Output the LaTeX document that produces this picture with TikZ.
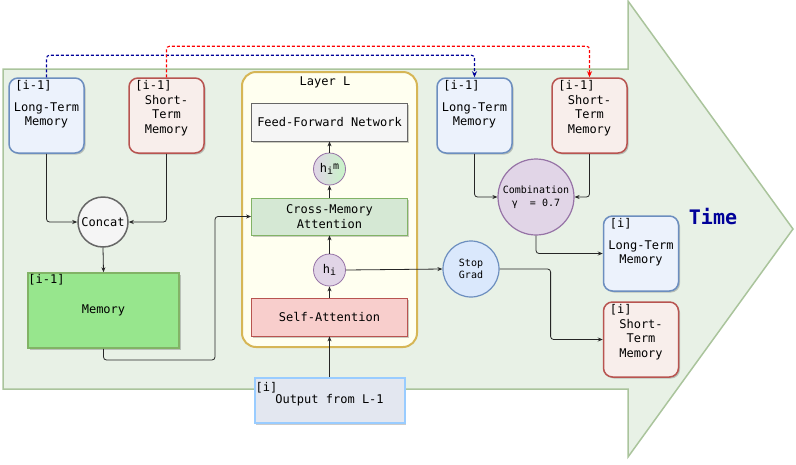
\documentclass[tikz,border=0pt]{standalone}
\usepackage{fontspec}
\setmonofont{DejaVu Sans Mono}
\usetikzlibrary{arrows.meta,shadows}

\definecolor{bgfill}{RGB}{232,241,230}
\definecolor{bgline}{RGB}{170,196,156}
\definecolor{ltmfill}{RGB}{236,242,252}
\definecolor{ltmline}{RGB}{108,142,191}
\definecolor{stmfill}{RGB}{248,238,235}
\definecolor{stmline}{RGB}{184,84,80}
\definecolor{memfill}{RGB}{151,230,141}
\definecolor{memline}{RGB}{130,179,102}
\definecolor{layerfill}{RGB}{255,255,240}
\definecolor{layerline}{RGB}{214,182,86}
\definecolor{ffnfill}{RGB}{245,245,245}
\definecolor{grayline}{RGB}{102,102,102}
\definecolor{cmafill}{RGB}{213,232,212}
\definecolor{safill}{RGB}{248,206,204}
\definecolor{outfill}{RGB}{227,231,240}
\definecolor{outbord}{RGB}{153,204,255}
\definecolor{stopfill}{RGB}{218,232,252}
\definecolor{purplefill}{RGB}{225,213,231}
\definecolor{purpleline}{RGB}{150,115,166}
\definecolor{hgreen}{RGB}{200,244,200}
\definecolor{navy}{RGB}{0,0,153}

\newcommand{\boxfont}{\ttfamily\fontsize{12}{14.5}\selectfont}
\newcommand{\tinyfont}{\ttfamily\fontsize{10}{12.5}\selectfont}
\newcommand{\hsub}{\raisebox{-2.5pt}{\fontsize{10}{10}\selectfont i}}

\tikzset{
    conn/.style={draw=black!85, line width=0.8pt, rounded corners=3pt, -{Stealth[length=5pt,width=4pt]}},
    memlink/.style={line width=1.1pt, dash pattern=on 3pt off 2pt, rounded corners=3pt, -{Stealth[length=6pt,width=5pt]}},
    boxshadow/.style={drop shadow={shadow xshift=1.5pt, shadow yshift=-1.5pt, opacity=0.2, fill=black}},
    tagtext/.style={anchor=north west, inner sep=0pt, font=\boxfont},
    tag/.style={label={[tagtext, xshift=7pt, yshift=-3pt]north west:{#1}}},
    memsquare/.style={rectangle, rounded corners=9pt, line width=1.5pt, minimum width=75pt, minimum height=75pt,
        inner sep=0pt, align=center, font=\boxfont, boxshadow},
    longmem/.style={memsquare, draw=ltmline, fill=ltmfill},
    shortmem/.style={memsquare, draw=stmline, fill=stmfill},
    layerbox/.style={rectangle, minimum width=156pt, inner sep=0pt, line width=0.8pt, align=center, font=\boxfont, boxshadow},
    hnode/.style={circle, draw=purpleline, fill=purplefill, line width=0.8pt, minimum size=32pt, inner sep=0pt, font=\boxfont},
}

\begin{document}
\begin{tikzpicture}[x=1pt, y=-1pt]
    \useasboundingbox (0,0) rectangle (796,464);

    % time arrow
    \draw[bgline, fill=bgfill, line width=1.5pt, line join=miter]
        (3,69) -- (628,69) -- (628,1) -- (793,229) -- (628,457) -- (628,389) -- (3,389) -- cycle;
    \node[font=\ttfamily\bfseries\fontsize{20}{24}\selectfont, text=navy] (time) at (713,217) {Time};

    % memories of segment i-1
    \node[longmem, tag={[i-1]}] (ltmIn) at (46.5,115.5) {Long-Term\\Memory};
    \node[shortmem, tag={[i-1]}] (stmIn) at (166.5,115.5) {Short-\\Term\\Memory};
    \node[circle, draw=grayline, fill=ffnfill, line width=1.5pt, minimum size=50pt, inner sep=0pt, font=\boxfont] (concat) at (103,222) {Concat};
    \node[rectangle, draw=memline, fill=memfill, line width=1.5pt, minimum width=151pt, minimum height=75pt, font=\boxfont, boxshadow,
        label={[tagtext, xshift=1pt, yshift=-2pt]north west:{[i-1]}}] (memory) at (103.5,310.5) {Memory};

    % layer L
    \node[rectangle, rounded corners=14pt, draw=layerline, fill=layerfill, line width=2pt, minimum width=175pt, minimum height=275pt] (layer) at (329.5,209.5) {};
    \node[font=\boxfont, inner sep=0pt] (layerT) at (325,82) {Layer L};
    \node[layerbox, draw=grayline, fill=ffnfill, minimum height=38pt] (ffn) at (329.5,122) {Feed-Forward Network};
    \node[hnode, left color=purplefill, right color=hgreen] (him) at (329.5,169) {h\hsub\raisebox{3pt}{\fontsize{10}{10}\selectfont m}};
    \node[layerbox, draw=memline, fill=cmafill, minimum height=37pt] (cma) at (329.5,216.5) {Cross-Memory\\Attention};
    \node[hnode] (hi) at (329.5,270) {h\hsub};
    \node[layerbox, draw=stmline, fill=safill, minimum height=38pt] (sa) at (329.5,317) {Self-Attention};
    \node[rectangle, draw=outbord, fill=outfill, line width=2pt, minimum width=150pt, minimum height=45pt, font=\boxfont, boxshadow,
        label={[tagtext, xshift=2pt, yshift=-5pt]north west:{[i]}}] (out) at (329.5,400.5) {\raisebox{-3pt}{Output from L-1}};

    % memories of segment i
    \node[circle, draw=ltmline, fill=stopfill, line width=1.2pt, minimum size=56pt, inner sep=0pt, align=center, font=\tinyfont] (stop) at (471,269) {Stop\\Grad};
    \node[longmem, tag={[i-1]}] (ltmOld) at (474.5,115.5) {Long-Term\\Memory};
    \node[shortmem, tag={[i-1]}] (stmOld) at (589.5,115.5) {Short-\\Term\\Memory};
    \node[circle, draw=purpleline, fill=purplefill, line width=1.2pt, minimum size=76pt, inner sep=0pt, align=center, font=\tinyfont] (comb) at (536,197) {Combination\\γ\ \ = 0.7};
    \node[longmem, tag={[i]}] (ltmNew) at (641,253.5) {Long-Term\\Memory};
    \node[shortmem, tag={[i]}] (stmNew) at (641,339.5) {Short-\\Term\\Memory};

    % connectors
    \draw[conn] (ltmIn.south) |- (concat.west);
    \draw[conn] (stmIn.south) |- (concat.east);
    \draw[conn] (concat.south) -- (memory.north);
    \coordinate (loop) at (215,360);
    \draw[conn] (memory.south) |- (loop) |- (cma.west);
    \draw[conn] (out.north) -- (sa.south);
    \draw[conn] (sa.north) -- (hi.south);
    \draw[conn] (hi.north) -- (cma.south);
    \draw[conn] (cma.north) -- (him.south);
    \draw[conn] (him.north) -- (ffn.south);
    \draw[conn] (hi.east) -- (stop.west);
    \draw[conn] (stop.east) -- ++(51,0) |- (stmNew.west);
    \draw[conn] (ltmOld.south) |- (comb.west);
    \draw[conn] (stmOld.south) |- (comb.east);
    \draw[conn] (comb.south) |- (ltmNew.west);

    \draw[memlink, navy] (ltmIn.north) -- ++(0,-22) -| (ltmOld.north);
    \draw[memlink, red] (stmIn.north) -- ++(0,-31) -| (stmOld.north);
\end{tikzpicture}
\end{document}
